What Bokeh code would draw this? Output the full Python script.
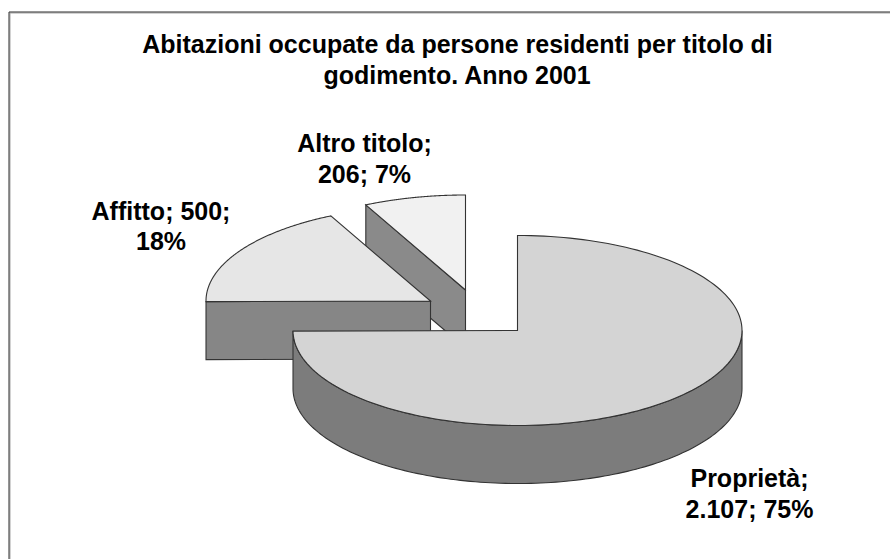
import numpy as np
from bokeh.plotting import figure
from bokeh.models import Range1d
from bokeh.core.properties import value
from bokeh.embed import file_html
from bokeh.resources import INLINE

title_lines = ["Abitazioni occupate da persone residenti per titolo di", "godimento. Anno 2001"]
categories = ["Proprietà", "Affitto", "Altro titolo"]
values = [2107, 500, 206]
label_lines = [["Proprietà;", "2.107; 75%"], ["Affitto; 500;", "18%"], ["Altro titolo;", "206; 7%"]]

top_colors = ["#d4d4d4", "#e6e6e6", "#f1f1f1"]
wall_colors = ["#7c7c7c", "#868686", "#8a8a8a"]
edge = "#333333"

W, H = 890, 559
centers = [(517.0, 330.0), (430.0, 300.5), (465.0, 289.5)]
RX, RY, DEPTH = 224.5, 95.0, 58.0
label_pos = [(749, [477, 508]), (160.5, [210, 240]), (364, [142, 173])]

p = figure(width=W, height=H, output_backend="svg", toolbar_location=None,
           x_range=Range1d(0, W), y_range=Range1d(H, 0),
           min_border=0, outline_line_color=None, background_fill_color="white",
           border_fill_color="white")
p.axis.visible = False
p.grid.visible = False

fractions = np.array(values, dtype=float) / sum(values)
edges = np.concatenate([[0.0], np.cumsum(fractions)]) * 2 * np.pi


def pt(c, a, dy=0.0):
    return c[0] + RX * np.sin(a), c[1] - RY * np.cos(a) + dy


def patch(xs, ys, color):
    p.patch(list(xs), list(ys), fill_color=color, line_color=edge, line_width=1.1, line_join="miter")


for off, col in [(1.0, "#a6a6a6"), (0.0, "#2b2b2b")]:
    p.line([8.5 + off, 8.5 + off, W], [H, 11.5 + off, 11.5 + off], line_color=col, line_width=1)

for i in [2, 1, 0]:
    c = centers[i]
    a0, a1 = edges[i], edges[i + 1]
    t = np.linspace(a0, a1, 160)
    ex, ey = pt(c, t)
    if i == 0:
        w = np.linspace(np.pi / 2, a1, 140)
        wx, wy = pt(c, w)
        bx, by = pt(c, w, DEPTH)
        patch(np.r_[wx, bx[::-1]], np.r_[wy, by[::-1]], wall_colors[i])
    else:
        sx, sy = pt(c, a0)
        patch([sx, c[0], c[0], sx], [sy, c[1], c[1] + DEPTH, sy + DEPTH], wall_colors[i])
    patch(np.r_[c[0], ex], np.r_[c[1], ey], top_colors[i])

font = value("Liberation Sans")
p.text([457, 457], [43, 74], text=title_lines, text_font=font, text_font_style="bold",
       text_font_size="25px", text_align="center", text_baseline="alphabetic", text_color="#000000")
for (x, ys), lines in zip(label_pos, label_lines):
    p.text([x] * len(lines), ys, text=lines, text_font=font, text_font_style="bold",
           text_font_size="25px", text_align="center", text_baseline="alphabetic", text_color="#000000")

open("out.html", "w").write(file_html(p, INLINE))
